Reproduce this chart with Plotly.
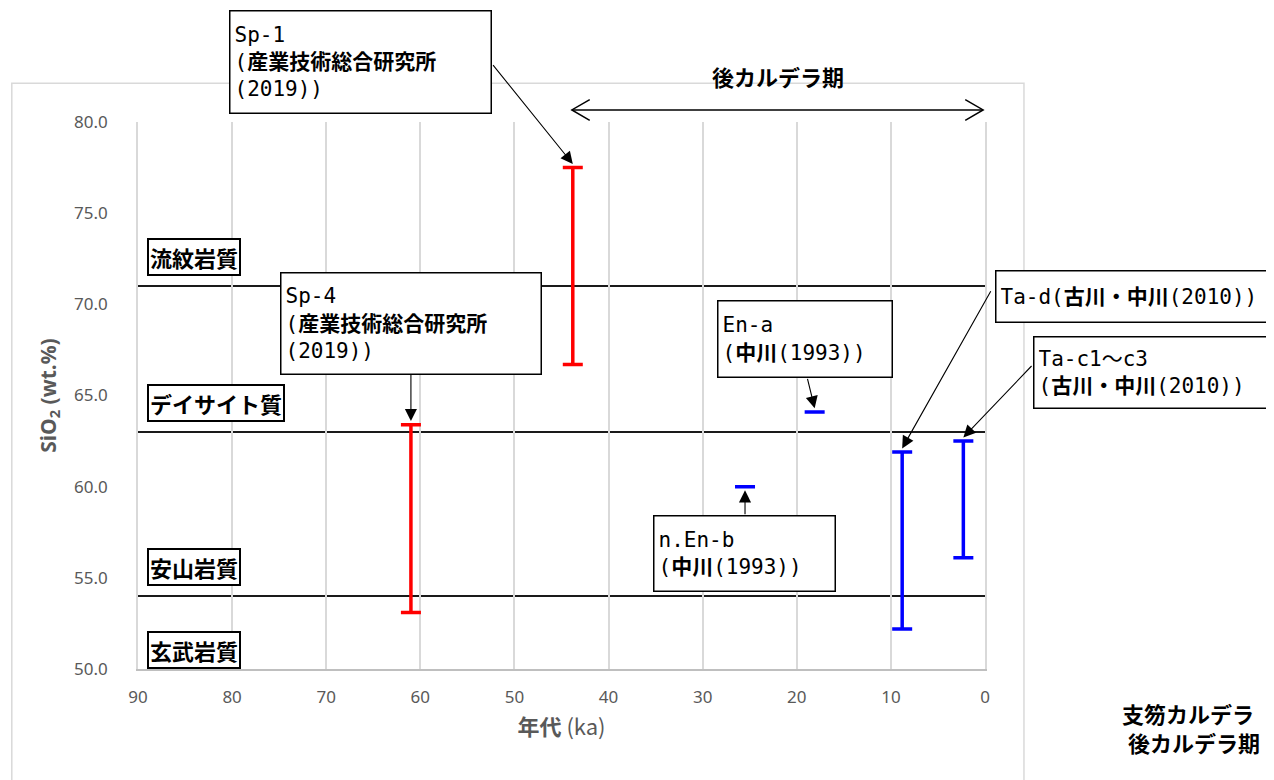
import plotly.graph_objects as go

# SiO2 range of each tephra (wt.%) against age (ka)
names = ["Sp-1", "Sp-4", "En-a", "n.En-b", "Ta-d", "Ta-c1～c3"]
ages_ka = [43.8, 61.0, 18.1, 25.5, 8.8, 2.3]
sio2_min = [66.7, 53.1, 64.1, 60.0, 52.2, 56.1]
sio2_max = [77.5, 63.4, 64.1, 60.0, 61.9, 62.5]
bar_colors = ["#ff0000", "#ff0000", "#0000ff", "#0000ff", "#0000ff", "#0000ff"]

# rock type boundaries (SiO2 wt.%) and names
boundary_sio2 = [71, 63, 54]
rock_labels = ["流紋岩質", "デイサイト質", "安山岩質", "玄武岩質"]

x_ticks = [90, 80, 70, 60, 50, 40, 30, 20, 10, 0]
y_ticks = [50, 55, 60, 65, 70, 75, 80]
y_ticktext = ["%.1f" % v for v in y_ticks]

callout_text = {
    "Sp-1": "Sp-1<br>(<b>産業技術総合研究所</b><br>(2019))",
    "Sp-4": "Sp-4<br>(<b>産業技術総合研究所</b><br>(2019))",
    "En-a": "En-a<br>(<b>中川</b>(1993))",
    "n.En-b": "n.En-b<br>(<b>中川</b>(1993))",
    "Ta-d": "Ta-d(<b>古川・中川</b>(2010))",
    "Ta-c1～c3": "Ta-c1～c3<br>(<b>古川・中川</b>(2010))",
}

CJK = "Noto Sans CJK JP"
MONO = "DejaVu Sans Mono, Noto Sans CJK JP"
GRAY = "#595959"

fig = go.Figure()

for col in ["#ff0000", "#0000ff"]:
    idx = [i for i, c in enumerate(bar_colors) if c == col]
    fig.add_trace(go.Scatter(
        x=[ages_ka[i] for i in idx],
        y=[sio2_min[i] for i in idx],
        mode="markers",
        marker=dict(size=1, color="rgba(0,0,0,0)"),
        error_y=dict(
            type="data", symmetric=False,
            array=[sio2_max[i] - sio2_min[i] for i in idx],
            arrayminus=[0] * len(idx),
            color=col, thickness=3.5, width=10,
        ),
        showlegend=False, hoverinfo="skip",
    ))

shapes = []
# outer chart frame
shapes.append(dict(type="rect", xref="paper", yref="paper",
                   x0=-0.149, x1=1.046, y0=-0.25, y1=1.071,
                   line=dict(color="#d9d9d9", width=1.5), layer="below"))
for b in boundary_sio2:
    shapes.append(dict(type="line", xref="paper", yref="y", x0=0, x1=1, y0=b, y1=b,
                       line=dict(color="#1a1a1a", width=2), layer="between"))

# 後カルデラ期 double arrow
arr_y = 1.022
shapes.append(dict(type="line", xref="x", yref="paper", x0=43.9, x1=0.2,
                   y0=arr_y, y1=arr_y, line=dict(color="black", width=1.5)))
shapes.append(dict(type="path", xref="x", yref="paper",
                   path="M 42.0,%f L 43.9,%f L 42.0,%f" % (arr_y + 0.019, arr_y, arr_y - 0.019),
                   line=dict(color="black", width=1.5)))
shapes.append(dict(type="path", xref="x", yref="paper",
                   path="M 2.1,%f L 0.2,%f L 2.1,%f" % (arr_y + 0.019, arr_y, arr_y - 0.019),
                   line=dict(color="black", width=1.5)))

annotations = []

# rock type labels
for i, lab in enumerate(rock_labels):
    if i < len(boundary_sio2):
        yv, anchor, shift = boundary_sio2[i], "bottom", 10
    else:
        yv, anchor, shift = boundary_sio2[-1], "top", -35
    annotations.append(dict(
        x=90, y=yv, xref="x", yref="y", xanchor="left", yanchor=anchor,
        xshift=9, yshift=shift, text="<b>%s</b>" % lab, showarrow=False,
        font=dict(family=CJK, size=22, color="black"),
        bgcolor="white", bordercolor="black", borderwidth=2, borderpad=1,
    ))

# callout boxes (paper position of top-left corner, box size)
boxes = {
    "Sp-1": (0.1074, 1.2048, 252, 93),
    "Sp-4": (0.1677, 0.7258, 251, 92),
    "En-a": (0.6836, 0.6746, 165, 67),
    "n.En-b": (0.6080, 0.2815, 172, 66),
    "Ta-d": (1.0118, 0.7294, 300, 42),
    "Ta-c1～c3": (1.0567, 0.6088, 227, 62),
}
for name, (bx, by, bw, bh) in boxes.items():
    annotations.append(dict(
        x=bx, y=by, xref="paper", yref="paper", xanchor="left", yanchor="top",
        text=callout_text[name], showarrow=False, align="left", valign="middle",
        width=bw, height=bh,
        font=dict(family=MONO, size=21, color="black"),
        bgcolor="white", bordercolor="black", borderwidth=1.5, borderpad=4,
    ))

# arrows: tail position (age, SiO2) and which end of the bar they point at
tails = {
    "Sp-1": (52.4, 83.2, "top"),
    "Sp-4": (61.0, 66.2, "top"),
    "En-a": (18.9, 66.0, "top"),
    "n.En-b": (25.5, 58.4, "bottom"),
    "Ta-d": (-0.7, 70.8, "top"),
    "Ta-c1～c3": (-5.1, 66.7, "top"),
}
for i, name in enumerate(names):
    tx, ty, end = tails[name]
    tip_y = sio2_max[i] + 0.2 if end == "top" else sio2_min[i] - 0.2
    annotations.append(dict(
        x=ages_ka[i], y=tip_y, ax=tx, ay=ty, xref="x", yref="y", axref="x", ayref="y",
        text="", showarrow=True, arrowhead=2, arrowsize=2.2, arrowwidth=1.1,
        arrowcolor="black", standoff=0,
    ))

annotations.append(dict(
    x=22, y=1.117, xref="x", yref="paper", text="<b>後カルデラ期</b>", showarrow=False,
    font=dict(family=CJK, size=22, color="black"),
))
annotations.append(dict(
    x=1.159, y=-0.080, xref="paper", yref="paper", xanchor="left", yanchor="middle",
    text="<b>支笏カルデラ</b>", showarrow=False,
    font=dict(family=CJK, size=22, color="black"),
))
annotations.append(dict(
    x=1.167, y=-0.134, xref="paper", yref="paper", xanchor="left", yanchor="middle",
    text="<b>後カルデラ期</b>", showarrow=False,
    font=dict(family=CJK, size=22, color="black"),
))

fig.update_layout(
    width=1274, height=780,
    # the page body adds an 8px offset, margins account for it
    margin=dict(l=130, r=297, t=114, b=119),
    paper_bgcolor="white", plot_bgcolor="white",
    shapes=shapes, annotations=annotations,
    hovermode=False,
    xaxis=dict(
        range=[90, 0], tickvals=x_ticks, showgrid=True, gridcolor="#d9d9d9", gridwidth=1.5,
        zeroline=False, showline=True, linecolor="#bfbfbf", linewidth=1.5,
        tickfont=dict(family="Noto Sans", size=17, color=GRAY), ticklabelstandoff=12,
        title=dict(text="<b>年代</b> (ka)", font=dict(family=CJK, size=22, color=GRAY), standoff=12),
    ),
    yaxis=dict(
        range=[50, 80], tickvals=y_ticks, ticktext=y_ticktext, showgrid=False,
        zeroline=False, showline=True, mirror=True, linecolor="#d9d9d9", linewidth=1.5,
        tickfont=dict(family="Noto Sans", size=17, color=GRAY), ticklabelstandoff=25,
        title=dict(text="<b>SiO<sub>2</sub> (wt.%)</b>", font=dict(family="Noto Sans", size=21, color=GRAY), standoff=12),
    ),
)

fig.write_html("out.html")
